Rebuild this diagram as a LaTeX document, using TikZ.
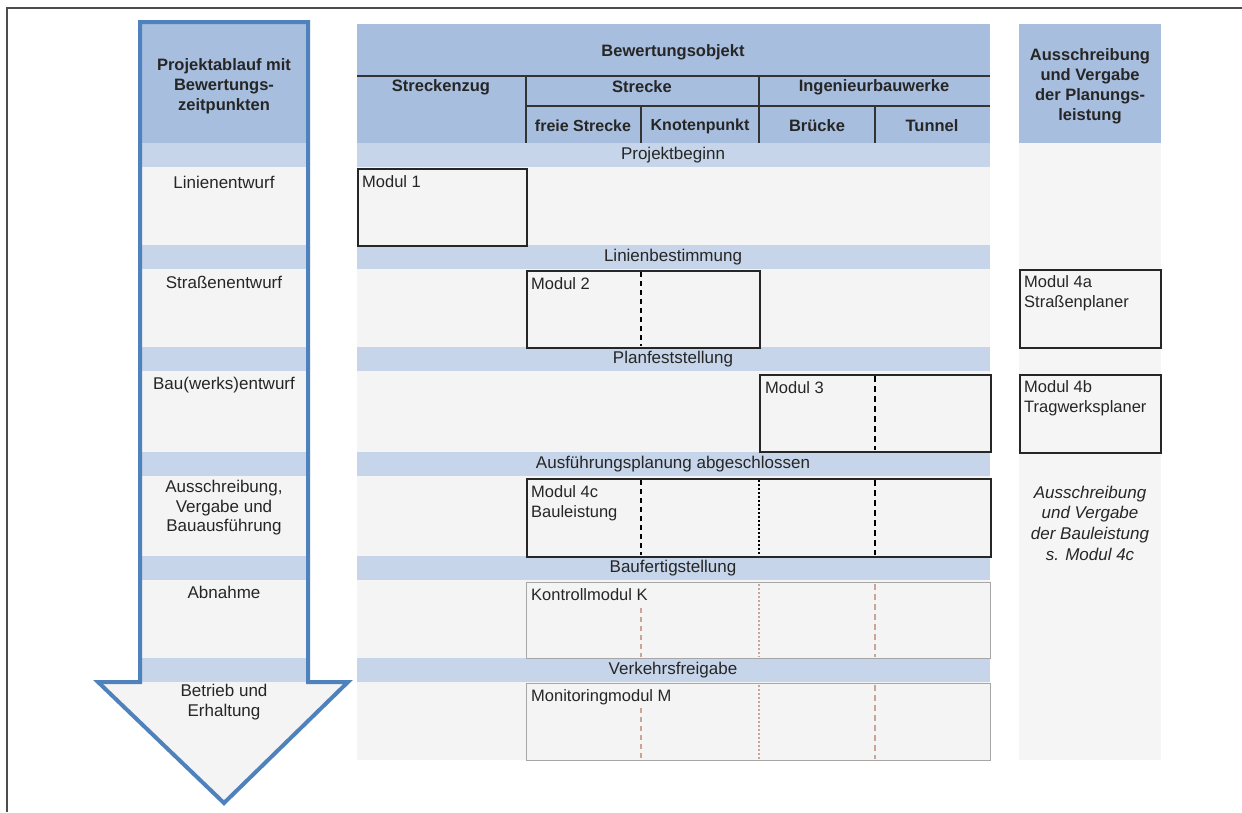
\documentclass[tikz,border=0pt]{standalone}
\usepackage{fontspec}
\setmainfont{Liberation Sans}
\definecolor{arrowblue}{HTML}{4F81BD}
\definecolor{hdrblue}{HTML}{A7BEDE}
\definecolor{bandblue}{HTML}{C6D5E9}
\definecolor{rowgray}{HTML}{F4F4F4}
\definecolor{txt}{HTML}{262626}
\definecolor{ghost}{HTML}{A6A6A6}
\definecolor{rust}{HTML}{C9A597}
\begin{document}
\begin{tikzpicture}[x=1pt,y=-1pt,
    lbl/.style={font=\fontsize{17}{19}\selectfont,text=txt,inner sep=0pt},
    side/.style={font=\fontsize{17}{19.5}\selectfont,text=txt,inner sep=0pt,align=center},
    head/.style={font=\bfseries\fontsize{16.5}{20}\selectfont,text=txt,inner sep=0pt,align=center},
    modbox/.style={draw=black!85,line width=1.6pt,inner sep=0pt,anchor=north west},
    ghostbox/.style={draw=ghost,line width=1.4pt,inner sep=0pt,anchor=north west},
    modlbl/.style={font=\fontsize{16.5}{20}\selectfont,text=txt,inner sep=0pt,anchor=north west,align=left},
    sepa/.style={line width=1.5pt,dash pattern=on 5pt off 4pt},
    sepb/.style={line width=1.2pt,dash pattern=on 2pt off 2pt},
    sepc/.style={line width=2.6pt,dash pattern=on 6pt off 4pt},
    rule/.style={draw=black!80,line width=1.3pt}]

  \useasboundingbox (0,0) rectangle (1242,812);
  \draw[black!70,line width=1.5pt] (7,812) -- (7,8) -- (1242,8);

  % backgrounds
  \fill[rowgray] (140,22) -- (308,22) -- (308,682) -- (348,682) -- (224,803)
    -- (98,682) -- (140,682) -- cycle;
  \fill[rowgray] (357,143) rectangle (990,760);
  \fill[rowgray!90] (1019,143) rectangle (1161,760);
  \fill[hdrblue] (140,22) rectangle (308,143);
  \fill[hdrblue] (357,24) rectangle (990,143);
  \fill[hdrblue] (1019,24) rectangle (1161,143);
  \foreach \y in {143,245,347,452,556,658} {
    \fill[bandblue] (140,\y) rectangle (308,\y+24);
    \fill[bandblue] (357,\y) rectangle (990,\y+24);
  }
  \draw[arrowblue,line width=4pt,line join=miter] (140,22) -- (308,22) -- (308,682)
    -- (348,682) -- (224,803) -- (98,682) -- (140,682) -- cycle;

  % header of the table
  \draw[rule] (357,76) -- (990,76);
  \draw[rule] (526,106) -- (990,106);
  \draw[rule] (526,76) -- (526,143);
  \draw[rule] (759,76) -- (759,143);
  \draw[rule] (641,106) -- (641,143);
  \draw[rule] (875,106) -- (875,143);

  \begin{scope}[every node/.style={head}]
    \node (ablauf) at (224,86)  {Projektablauf mit\\Bewertungs-\\zeitpunkten};
    \node (objekt) at (673,52)  {Bewertungsobjekt};
    \node (zug)    at (441,87)  {Streckenzug};
    \node (strecke) at (642,87) {Strecke};
    \node (ingbau) at (874,87)  {Ingenieurbauwerke};
    \node[font=\bfseries\fontsize{16}{20}\selectfont] (frei)   at (583,126) {freie Strecke};
    \node[font=\bfseries\fontsize{16}{20}\selectfont] (knoten) at (700,126) {Knotenpunkt};
    \node (bruecke) at (817,126) {Brücke};
    \node (tunnel) at (932,126) {Tunnel};
    \node (vergabe) at (1090,86) {Ausschreibung\\und Vergabe\\der Planungs-\\leistung};
  \end{scope}

  % milestones
  \begin{scope}[every node/.style={lbl}]
    \node (beginn)  at (673,155) {Projektbeginn};
    \node (linbest) at (673,257) {Linienbestimmung};
    \node (planf)   at (673,359) {Planfeststellung};
    \node (ausfpl)  at (673,464) {Ausführungsplanung abgeschlossen};
    \node (baufert) at (673,568) {Baufertigstellung};
    \node (verkehr) at (673,670) {Verkehrsfreigabe};
  \end{scope}

  % phases
  \begin{scope}[every node/.style={side}]
    \node (linent)  at (224,182) {Linienentwurf};
    \node (strent)  at (224,282) {Straßenentwurf};
    \node (bauent)  at (224,385) {Bau(werks)entwurf};
    \node (ausschr) at (224,508) {Ausschreibung,\\Vergabe und\\Bauausführung};
    \node (abnahme) at (224,592) {Abnahme};
    \node (betrieb) at (224,702) {Betrieb und\\Erhaltung};
  \end{scope}

  % modules
  \node[modbox,minimum width=169pt,minimum height=77pt] (m1) at (357,168) {};
  \node[modbox,minimum width=233pt,minimum height=77pt] (m2) at (526,270) {};
  \node[modbox,minimum width=231pt,minimum height=77pt] (m3) at (759,374) {};
  \node[modbox,minimum width=464pt,minimum height=78pt] (m4c) at (526,478) {};
  \node[ghostbox,minimum width=464pt,minimum height=76pt] (mk) at (526,582) {};
  \node[ghostbox,minimum width=464pt,minimum height=77pt] (mm) at (526,683) {};
  \node[modbox,minimum width=141pt,minimum height=78pt] (m4a) at (1019,269) {};
  \node[modbox,minimum width=141pt,minimum height=78pt] (m4b) at (1019,374) {};

  \draw[sepa] (641,272) -- (641,346);
  \draw[sepc] (875,376) -- (875,450);
  \draw[sepa] (641,480) -- (641,555);
  \draw[sepb] (759,480) -- (759,555);
  \draw[sepc] (875,480) -- (875,555);
  \begin{scope}[rust]
    \draw[sepa,line width=1.2pt] (641,608) -- (641,657);
    \draw[sepb] (759,584) -- (759,657);
    \draw[sepc,line width=2pt] (875,584) -- (875,657);
    \draw[sepa,line width=1.2pt] (641,708) -- (641,759);
    \draw[sepb] (759,685) -- (759,759);
    \draw[sepc,line width=2pt] (875,685) -- (875,759);
  \end{scope}

  \begin{scope}[every node/.style={modlbl}]
    \node (m1l)  at ([xshift=5pt,yshift=-7pt]m1.north west)  {Modul 1};
    \node (m2l)  at ([xshift=5pt,yshift=-7pt]m2.north west)  {Modul 2};
    \node (m3l)  at ([xshift=6pt,yshift=-7pt]m3.north west)  {Modul 3};
    \node (m4cl) at ([xshift=5pt,yshift=-7pt]m4c.north west) {Modul 4c\\Bauleistung};
    \node (mkl)  at ([xshift=5pt,yshift=-6pt]mk.north west)  {Kontrollmodul K};
    \node (mml)  at ([xshift=5pt,yshift=-6pt]mm.north west)  {Monitoringmodul M};
    \node (m4al) at ([xshift=5pt,yshift=-6pt]m4a.north west) {Modul 4a\\Straßenplaner};
    \node (m4bl) at ([xshift=5pt,yshift=-6pt]m4b.north west) {Modul 4b\\Tragwerksplaner};
  \end{scope}

  \node[side,font=\itshape\fontsize{17}{20.7}\selectfont] (bauvergabe) at (1090,523)
    {Ausschreibung\\und Vergabe\\der Bauleistung\\s. Modul 4c};

\end{tikzpicture}
\end{document}
